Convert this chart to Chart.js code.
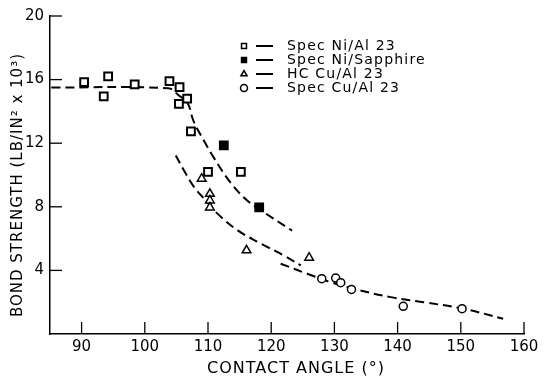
<!DOCTYPE html>
<html>
<head>
<meta charset="utf-8">
<script src="https://cdn.jsdelivr.net/npm/chart.js@4.4.0/dist/chart.umd.min.js"></script>
<style>
  html, body { margin: 0; padding: 0; background: #fff; }
  #wrap { width: 549px; height: 381px; }
</style>
</head>
<body>
<div id="wrap"><canvas id="bondChart" width="549" height="381"></canvas></div>
<script>
// tick labels
var angleTicks = [90, 100, 110, 120, 130, 140, 150, 160];
var strengthTicks = [4, 8, 12, 16, 20];

// measured points
var niAlAngle = [90.4, 94.2, 93.5, 98.4, 103.9, 105.5, 106.7, 105.4, 107.3, 110.0, 115.2];
var niAlStrength = [15.84, 16.2, 14.94, 15.7, 15.9, 15.53, 14.8, 14.48, 12.74, 10.2, 10.2];
var niSapAngle = [112.5, 118.1];
var niSapStrength = [11.86, 7.96];
var hcCuAngle = [109.0, 110.3, 110.3, 110.3, 116.1, 126.0];
var hcCuStrength = [9.77, 8.82, 8.4, 7.96, 5.26, 4.8];
var specCuAngle = [128.0, 130.2, 131.0, 132.7, 140.9, 150.2];
var specCuStrength = [3.48, 3.52, 3.23, 2.8, 1.74, 1.59];

// hand-drawn trend curves
var niCurveAngle = [85.2, 103.7, 105.4, 106.8, 107.7, 109.3, 110.9, 113.6, 116.2, 118.3, 123.3];
var niCurveStrength = [15.5, 15.45, 15.0, 14.5, 13.4, 12.2, 11.1, 9.5, 8.4, 7.8, 6.5];
var hcCurveAngle = [104.9, 106.2, 107.8, 109.4, 111.5, 114.7, 118.4, 122.0, 124.7];
var hcCurveStrength = [11.23, 10.29, 9.24, 8.51, 7.57, 6.52, 5.68, 4.94, 4.31];
var cuCurveAngle = [121.5, 125.7, 129.4, 133.6, 138.9, 144.1, 150.4, 156.7];
var cuCurveStrength = [4.42, 3.79, 3.26, 2.79, 2.32, 2.0, 1.59, 0.96];

var legendLabels = ['Spec Ni/Al 23', 'Spec Ni/Sapphire', 'HC Cu/Al 23', 'Spec Cu/Al 23'];
var xTitle = 'CONTACT ANGLE (°)';
var yTitle = 'BOND STRENGTH (LB/IN² x 10³)';

function pts(xs, ys) {
    return xs.map(function (x, i) { return { x: x, y: ys[i] }; });
}

var FONT = 'DejaVu Sans';

function curve(xs, ys) {
    return {
        type: 'line',
        data: pts(xs, ys),
        borderColor: '#000',
        borderWidth: 2,
        borderDash: [9, 5],
        pointRadius: 0,
        tension: 0.4,
        fill: false,
        order: 2
    };
}

function marks(label, xs, ys, style, radius, fillCol, bw) {
    return {
        type: 'scatter',
        label: label,
        data: pts(xs, ys),
        pointStyle: style,
        pointRadius: radius,
        pointHoverRadius: radius,
        backgroundColor: fillCol,
        borderColor: '#000',
        borderWidth: bw,
        order: 1
    };
}

var markSets = [
    marks(legendLabels[0], niAlAngle, niAlStrength, 'rect', 5.5, '#fff', 2),
    marks(legendLabels[1], niSapAngle, niSapStrength, 'rect', 5.5, '#000', 2),
    marks(legendLabels[2], hcCuAngle, hcCuStrength, 'triangle', 5, '#fff', 1.5),
    marks(legendLabels[3], specCuAngle, specCuStrength, 'circle', 4, '#fff', 1.5)
];

// inward tick marks, axis titles, hand-made legend
var extras = {
    id: 'extras',
    afterDraw: function (chart) {
        var ctx = chart.ctx;
        var xs = chart.scales.x, ys = chart.scales.y;
        ctx.save();
        ctx.strokeStyle = '#000';
        ctx.lineWidth = 1.3;
        angleTicks.forEach(function (v) {
            var px = xs.getPixelForValue(v);
            ctx.beginPath();
            ctx.moveTo(px, ys.bottom);
            ctx.lineTo(px, ys.bottom - 12);
            ctx.stroke();
        });
        strengthTicks.forEach(function (v) {
            var py = ys.getPixelForValue(v);
            ctx.beginPath();
            ctx.moveTo(xs.left, py);
            ctx.lineTo(xs.left + 12, py);
            ctx.stroke();
        });

        // axis titles
        ctx.fillStyle = '#000';
        ctx.textAlign = 'center';
        ctx.textBaseline = 'middle';
        ctx.font = '16px "' + FONT + '"';
        ctx.letterSpacing = '1px';
        ctx.fillText(xTitle, 296, 369);
        ctx.save();
        ctx.translate(18, 185);
        ctx.rotate(-Math.PI / 2);
        ctx.font = '15px "' + FONT + '"';
        ctx.fillText(yTitle, 0, 0);
        ctx.restore();

        // legend
        var rowY = [46, 60, 74, 88];
        ctx.textAlign = 'left';
        ctx.font = '14px "' + FONT + '"';
        ctx.letterSpacing = '1.2px';
        markSets.forEach(function (ds, i) {
            var y = rowY[i];
            ctx.lineWidth = 1.5;
            ctx.strokeStyle = '#000';
            ctx.fillStyle = ds.backgroundColor;
            Chart.helpers.drawPoint(ctx, {
                pointStyle: ds.pointStyle,
                radius: 3.5,
                borderWidth: 1.5,
                rotation: 0
            }, 244, y);
            ctx.beginPath();
            ctx.lineWidth = 2;
            ctx.moveTo(256, y);
            ctx.lineTo(273, y);
            ctx.stroke();
            ctx.fillStyle = '#000';
            ctx.fillText(legendLabels[i], 287, y);
        });
        ctx.restore();
    }
};

new Chart(document.getElementById('bondChart').getContext('2d'), {
    data: {
        datasets: markSets.concat([
            curve(niCurveAngle, niCurveStrength),
            curve(hcCurveAngle, hcCurveStrength),
            curve(cuCurveAngle, cuCurveStrength)
        ])
    },
    options: {
        responsive: false,
        animation: false,
        layout: { padding: { top: 16, right: 25, left: 0, bottom: 0 } },
        plugins: {
            legend: { display: false },
            tooltip: { enabled: false }
        },
        scales: {
            x: {
                type: 'linear',
                min: 85,
                max: 160,
                afterBuildTicks: function (s) {
                    s.ticks = angleTicks.map(function (v) { return { value: v }; });
                },
                afterFit: function (s) { s.height = 47; },
                grid: { display: false, drawTicks: false },
                border: { display: true, color: '#000', width: 1.5 },
                ticks: {
                    color: '#000',
                    padding: 4,
                    maxRotation: 0,
                    font: { family: FONT, size: 15 }
                }
            },
            y: {
                type: 'linear',
                min: 0,
                max: 20,
                afterBuildTicks: function (s) {
                    s.ticks = strengthTicks.map(function (v) { return { value: v }; });
                },
                afterFit: function (s) { s.width = 50; },
                grid: { display: false, drawTicks: false },
                border: { display: true, color: '#000', width: 1.5 },
                ticks: {
                    color: '#000',
                    padding: 6,
                    font: { family: FONT, size: 15 }
                }
            }
        }
    },
    plugins: [extras]
});
</script>
</body>
</html>
